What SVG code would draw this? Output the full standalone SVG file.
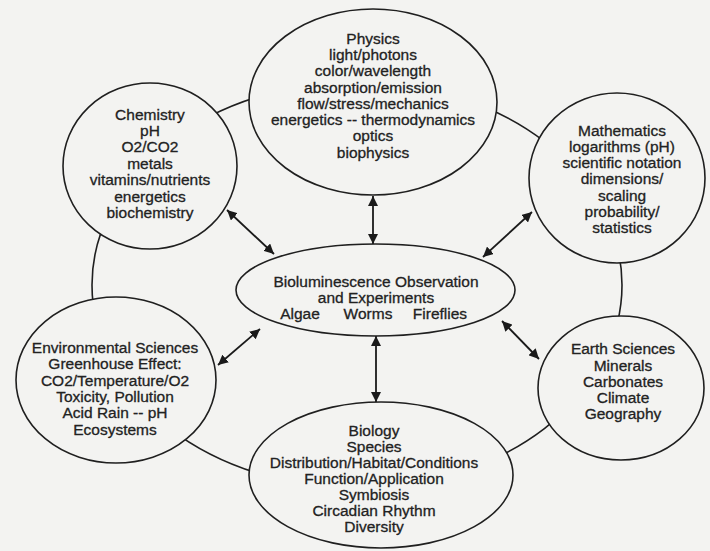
<svg xmlns="http://www.w3.org/2000/svg" width="710" height="551" viewBox="0 0 710 551">
<defs>
<marker id="ah" viewBox="0 0 10 10" refX="10" refY="5" markerWidth="10" markerHeight="10" markerUnits="userSpaceOnUse" orient="auto-start-reverse">
<path d="M0,0 L10,5 L0,10 Z" fill="#1a1a1a"/>
</marker>
</defs>
<style>
.bg{fill:#f3f3f1}
.node{fill:#f3f3f1;stroke:#1f1f1f;stroke-width:1.6}
.ring{fill:none;stroke:#1f1f1f;stroke-width:1.6}
.conn{stroke:#1a1a1a;stroke-width:1.8;fill:none;marker-start:url(#ah);marker-end:url(#ah)}
text{font-family:"Liberation Sans",Arial,sans-serif;font-size:15.5px;fill:#222;stroke:#222;stroke-width:0.3;text-anchor:middle}
</style>
<rect class="bg" x="0" y="0" width="710" height="551"/>
<ellipse class="ring" cx="357" cy="285" rx="265" ry="203"/>
<g id="connectors">
<line class="conn" x1="373" y1="196" x2="373" y2="244"/>
<line class="conn" x1="227" y1="210" x2="274" y2="254"/>
<line class="conn" x1="532" y1="212" x2="483" y2="257"/>
<line class="conn" x1="218" y1="365" x2="260" y2="329"/>
<line class="conn" x1="502" y1="321" x2="539" y2="359"/>
<line class="conn" x1="376" y1="336" x2="376" y2="402"/>
</g>
<g id="physics">
<ellipse class="node" cx="373" cy="102" rx="124" ry="93"/>
<text x="373" y="44">Physics</text>
<text x="373" y="60">light/photons</text>
<text x="373" y="76">color/wavelength</text>
<text x="373" y="93">absorption/emission</text>
<text x="373" y="109">flow/stress/mechanics</text>
<text x="373" y="125">energetics -- thermodynamics</text>
<text x="373" y="141">optics</text>
<text x="373" y="158">biophysics</text>
</g>
<g id="chemistry">
<ellipse class="node" cx="150" cy="166" rx="87" ry="83"/>
<text x="150" y="120">Chemistry</text>
<text x="150" y="136">pH</text>
<text x="150" y="152">O2/CO2</text>
<text x="150" y="169">metals</text>
<text x="150" y="185">vitamins/nutrients</text>
<text x="150" y="202">energetics</text>
<text x="150" y="218">biochemistry</text>
</g>
<g id="mathematics">
<ellipse class="node" cx="617" cy="178" rx="88" ry="85"/>
<text x="622" y="136">Mathematics</text>
<text x="622" y="152">logarithms (pH)</text>
<text x="622" y="168">scientific notation</text>
<text x="622" y="184">dimensions/</text>
<text x="622" y="201">scaling</text>
<text x="622" y="217">probability/</text>
<text x="622" y="233">statistics</text>
</g>
<g id="center">
<ellipse class="node" cx="375.5" cy="290" rx="139.5" ry="46"/>
<text x="376" y="287">Bioluminescence Observation</text>
<text x="376" y="303">and Experiments</text>
<text x="300" y="319">Algae</text>
<text x="368" y="319">Worms</text>
<text x="440" y="319">Fireflies</text>
</g>
<g id="environmental">
<ellipse class="node" cx="116" cy="380" rx="100" ry="83"/>
<text x="115" y="353">Environmental Sciences</text>
<text x="115" y="369">Greenhouse Effect:</text>
<text x="115" y="386">CO2/Temperature/O2</text>
<text x="115" y="402">Toxicity, Pollution</text>
<text x="115" y="418">Acid Rain -- pH</text>
<text x="115" y="435">Ecosystems</text>
</g>
<g id="earth">
<ellipse class="node" cx="621" cy="388" rx="83" ry="72"/>
<text x="623" y="354">Earth Sciences</text>
<text x="623" y="371">Minerals</text>
<text x="623" y="387">Carbonates</text>
<text x="623" y="403">Climate</text>
<text x="623" y="419">Geography</text>
</g>
<g id="biology">
<ellipse class="node" cx="381" cy="475" rx="132" ry="73"/>
<text x="374" y="436">Biology</text>
<text x="374" y="452">Species</text>
<text x="374" y="468">Distribution/Habitat/Conditions</text>
<text x="374" y="484">Function/Application</text>
<text x="374" y="500">Symbiosis</text>
<text x="374" y="516">Circadian Rhythm</text>
<text x="374" y="532">Diversity</text>
</g>
</svg>
